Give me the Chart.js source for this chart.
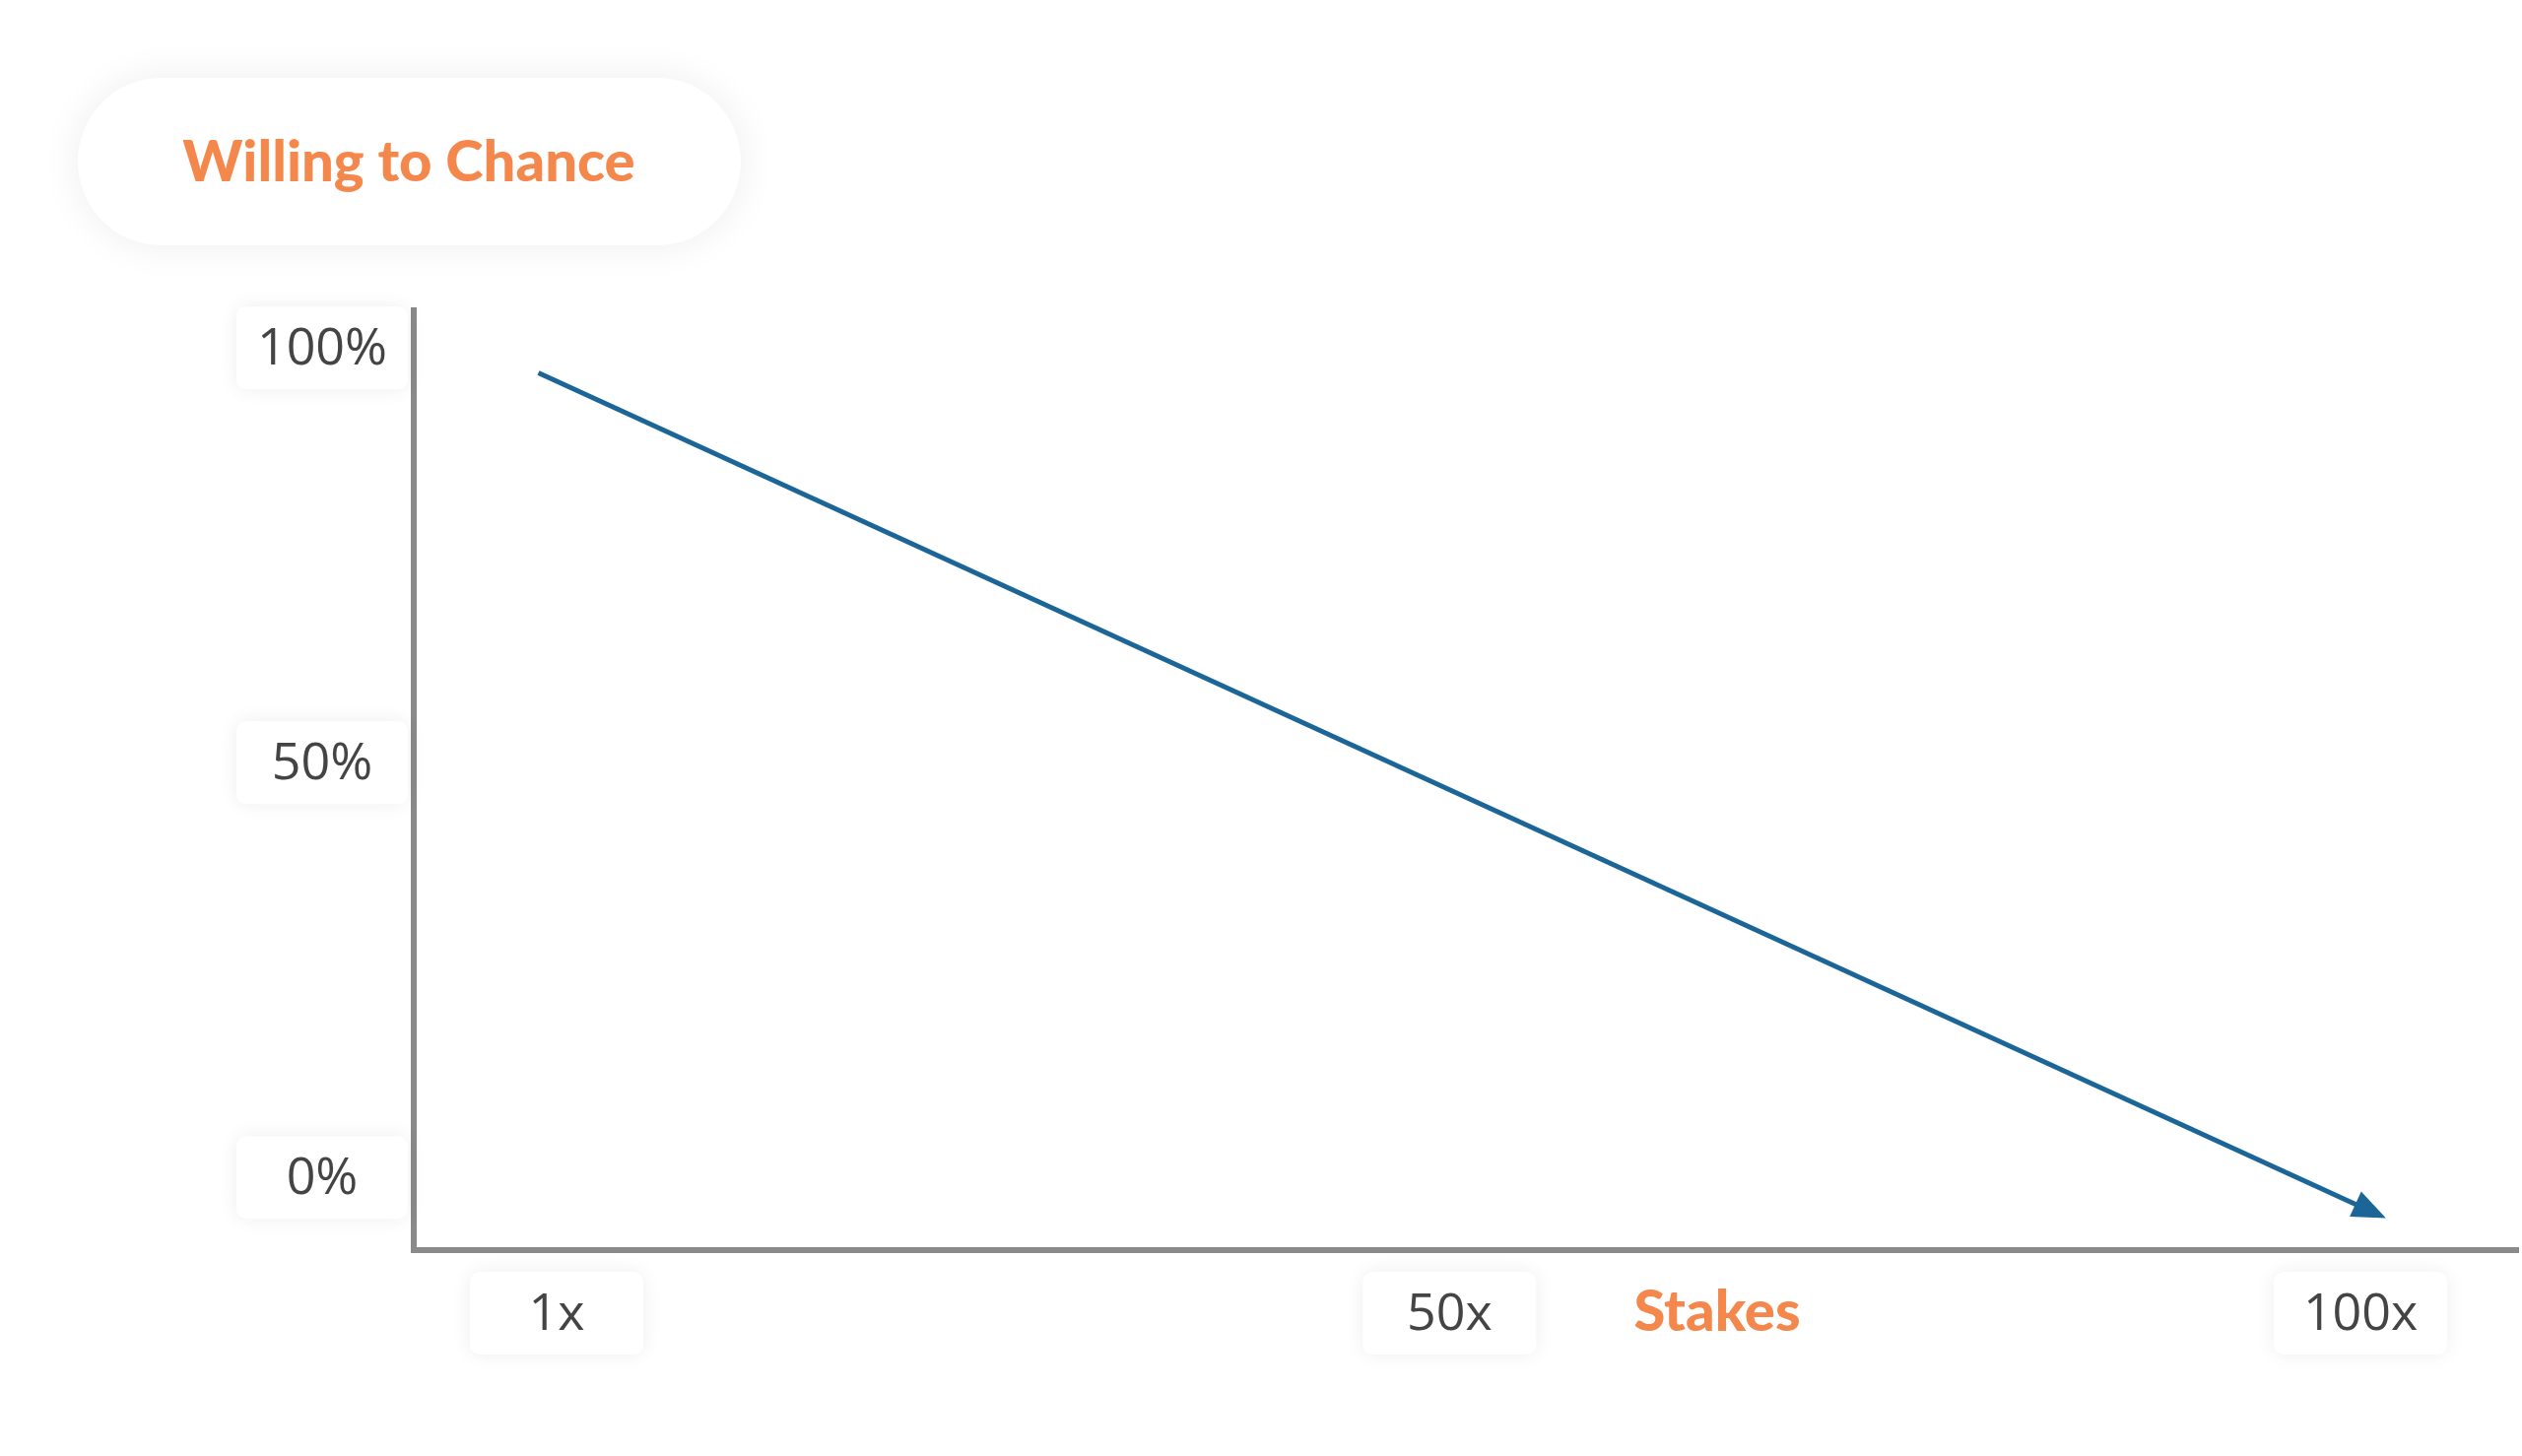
<!DOCTYPE html>
<html>
<head>
<meta charset="utf-8">
<script src="https://cdn.jsdelivr.net/npm/chart.js@4"></script>
<style>
  html, body { margin: 0; padding: 0; background: #fff; }
  canvas { display: block; }
</style>
</head>
<body>
<canvas id="myChart" width="2560" height="1478"></canvas>
<script>
// Datos del gráfico
const stakes = [0, 101];
const chance = [97, -4.5];
const xTicks = [1, 50, 100];
const xTickLabels = ['1x', '50x', '100x'];
const yTicks = [0, 50, 100];
const yTickLabels = ['0%', '50%', '100%'];
const title = 'Willing to Chance';
const xTitle = 'Stakes';

const orange = '#F4874B';
const blue = '#1B6597';
const axisGray = '#8a8a8a';
const tickColor = '#444444';

function roundBox(ctx, x, y, w, h, r, shadow) {
  ctx.save();
  ctx.shadowColor = 'rgba(0,0,0,0.07)';
  ctx.shadowBlur = shadow;
  ctx.fillStyle = '#ffffff';
  ctx.beginPath();
  ctx.roundRect(x, y, w, h, r);
  ctx.fill();
  ctx.restore();
}

// Plugin para dibujar ejes, etiquetas y flecha
const decorPlugin = {
  id: 'decor',
  afterDraw(chart) {
    const ctx = chart.ctx;
    const xs = chart.scales.x;
    const ys = chart.scales.y;
    const area = chart.chartArea;

    // Título en píldora
    roundBox(ctx, 79, 79, 673, 170, 85, 40);
    ctx.fillStyle = orange;
    ctx.font = '900 58px Lato';
    ctx.textAlign = 'center';
    ctx.textBaseline = 'middle';
    ctx.fillText(title, 415, 165);

    // Ejes
    ctx.save();
    ctx.strokeStyle = axisGray;
    ctx.lineWidth = 6;
    ctx.beginPath();
    ctx.moveTo(area.left, area.top);
    ctx.lineTo(area.left, area.bottom + 3);
    ctx.lineTo(area.right, area.bottom + 3);
    ctx.stroke();
    ctx.restore();

    // Etiquetas del eje Y
    ctx.font = '52px "Open Sans"';
    yTicks.forEach((v, i) => {
      const py = ys.getPixelForValue(v);
      roundBox(ctx, 240, py - 42, 174, 84, 10, 20);
      ctx.fillStyle = tickColor;
      ctx.fillText(yTickLabels[i], 327, py + 2);
    });

    // Etiquetas del eje X
    xTicks.forEach((v, i) => {
      const px = xs.getPixelForValue(v);
      roundBox(ctx, px - 88, 1291, 176, 84, 10, 20);
      ctx.fillStyle = tickColor;
      ctx.fillText(xTickLabels[i], px, 1335);
    });

    ctx.fillStyle = orange;
    ctx.font = '900 58px Lato';
    ctx.fillText(xTitle, 1743, 1332);

    // Flecha al final de la línea
    const pts = chart.getDatasetMeta(0).data;
    const a = pts[pts.length - 2], b = pts[pts.length - 1];
    const ang = Math.atan2(b.y - a.y, b.x - a.x);
    ctx.save();
    ctx.translate(b.x, b.y);
    ctx.rotate(ang);
    ctx.fillStyle = blue;
    ctx.beginPath();
    ctx.moveTo(8, 0);
    ctx.lineTo(-26, -14);
    ctx.lineTo(-26, 14);
    ctx.closePath();
    ctx.fill();
    ctx.restore();
  }
};

const ctx = document.getElementById('myChart').getContext('2d');
window.myChart = new Chart(ctx, {
  type: 'line',
  data: {
    datasets: [{
      data: stakes.map((s, i) => ({ x: s, y: chance[i] })),
      borderColor: blue,
      borderWidth: 5,
      pointRadius: 0,
      fill: false
    }]
  },
  options: {
    responsive: false,
    devicePixelRatio: 1,
    animation: false,
    layout: { padding: { left: 420, top: 312, right: 3, bottom: 212 } },
    plugins: { legend: { display: false }, tooltip: { enabled: false } },
    scales: {
      x: { type: 'linear', display: false, min: -6.84, max: 108.7 },
      y: { type: 'linear', display: false, min: -8.4, max: 104.9 }
    }
  },
  plugins: [decorPlugin]
});
</script>
</body>
</html>
